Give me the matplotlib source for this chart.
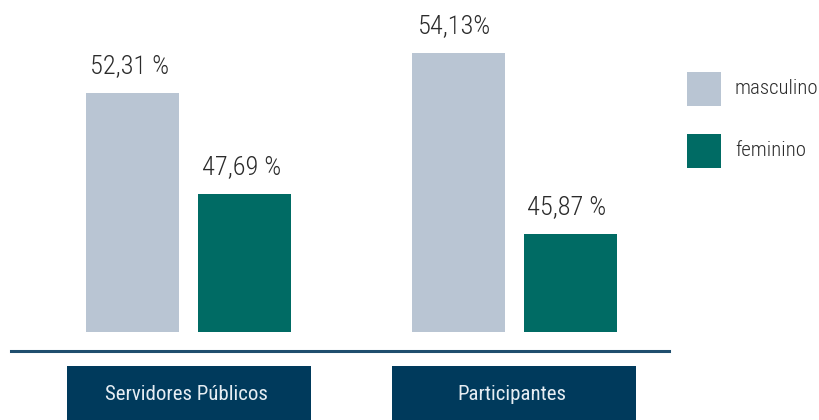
import matplotlib
matplotlib.use("Agg")
import matplotlib.pyplot as plt
from matplotlib import font_manager
from matplotlib.patches import Rectangle
from matplotlib.lines import Line2D

categories = ["Servidores Públicos", "Participantes"]
series_names = ["masculino", "feminino"]
masculino = [52.31, 54.13]
feminino = [47.69, 45.87]
value_labels_m = ["52,31 %", "54,13%"]
value_labels_f = ["47,69 %", "45,87 %"]

avail = {f.name for f in font_manager.fontManager.ttflist}
font = "DejaVu Sans"
for cand in ["Roboto Condensed", "Liberation Sans Narrow", "Open Sans Condensed",
             "DejaVu Sans Condensed", "Liberation Sans"]:
    if cand in avail:
        font = cand
        break
plt.rcParams['font.family'] = [font, 'DejaVu Sans']

col_m = "#b9c5d3"
col_f = "#006b64"
navy = "#003a5c"
line_col = "#1f4e6e"
txt_col = "#2b2b2b"

W, H = 819, 420
fig = plt.figure(figsize=(W / 100, H / 100), dpi=100)

ax = fig.add_axes([0, (H - 332) / H, 1, 332 / H])
scale = 325.5
c0 = 188.5
ax.set_xlim((0 - c0) / scale, (W - c0) / scale)
ymin = 41.36
ppu = 21.81
ax.set_ylim(ymin, ymin + 332 / ppu)
ax.axis("off")

w = 93 / scale
off = 56 / scale
xs = list(range(len(categories)))
bm = ax.bar([x - off for x in xs], masculino, width=w, color=col_m, bottom=0)
bf = ax.bar([x + off for x in xs], feminino, width=w, color=col_f, bottom=0)

for bars, labels in ((bm, value_labels_m), (bf, value_labels_f)):
    for rect, lab in zip(bars, labels):
        ax.annotate(lab, (rect.get_x() + rect.get_width() / 2, rect.get_height()),
                    xytext=(-3, 15), textcoords="offset pixels", ha="center", va="bottom",
                    fontsize=19, fontweight="light", color=txt_col, annotation_clip=False)

fig.add_artist(Line2D([11 / W, 669 / W], [(H - 350.5) / H] * 2, color=line_col, lw=2.2))

for x, cat in zip(xs, categories):
    cx = c0 + x * scale
    left = cx - 122
    fig.add_artist(Rectangle((left / W, 0), 244 / W, (H - 366) / H, color=navy, lw=0))
    fig.text(cx / W - 2 / W, (H - 395) / H, cat, ha="center", va="center", fontsize=15,
             color="#e6edf3")

for i, (name, col) in enumerate(zip(series_names, [col_m, col_f])):
    top = 72 + i * 62
    fig.add_artist(Rectangle((687 / W, (H - top - 34) / H), 34 / W, 34 / H, color=col, lw=0))
    fig.text(735 / W, (H - top - 16) / H, name, ha="left", va="center", fontsize=15,
             fontweight="light", color=txt_col)

fig.savefig("out.png", dpi=100)
